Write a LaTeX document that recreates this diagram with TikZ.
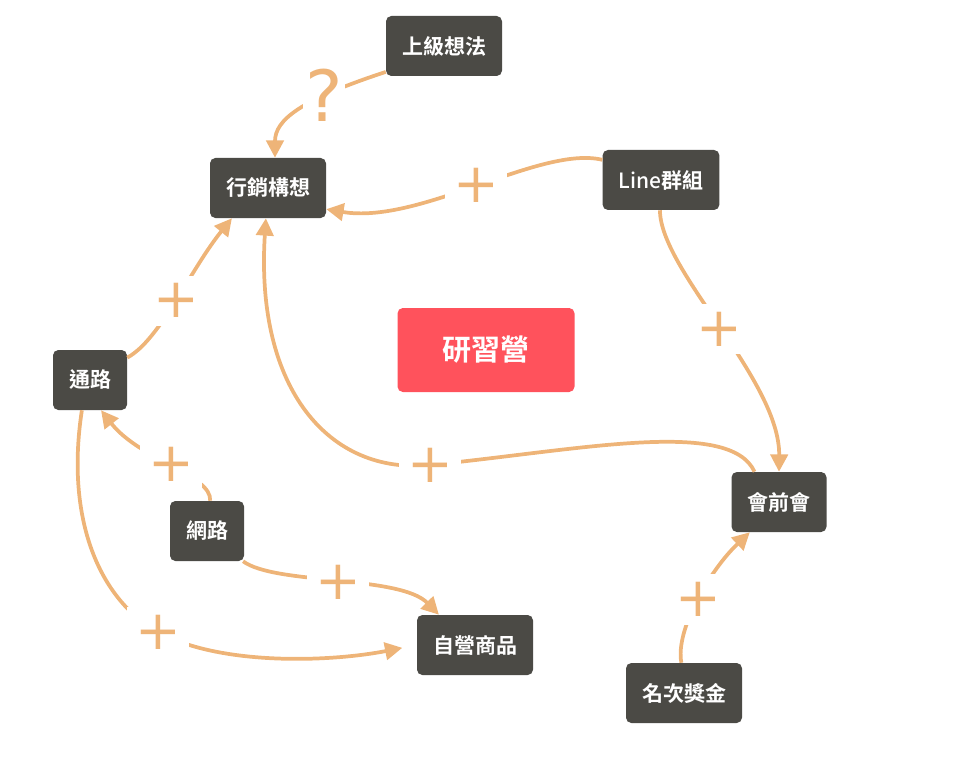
\documentclass[tikz,border=0pt]{standalone}
\usepackage{fontspec}
\setmainfont{Noto Sans CJK TC}[BoldFont={Noto Sans CJK TC Bold}]
\newfontfamily\signfont{DejaVu Sans}
\newfontfamily\latinfont{Noto Sans CJK TC Medium}
\usetikzlibrary{arrows.meta}
\definecolor{boxgray}{HTML}{4B4A45}
\definecolor{hubred}{HTML}{FF525C}
\definecolor{linkorange}{HTML}{EEB478}
\def\boxheight{45pt}
\def\boxpad{12pt}
\def\linkwidth{2.8pt}

\begin{document}
\begin{tikzpicture}[
            x=0.75pt, y=-0.75pt,
            concept/.style={%
                rectangle, rounded corners=4pt,%
                minimum height=\boxheight, inner xsep=\boxpad,%
                text centered, draw=none, fill=boxgray, text=white,%
                font=\fontsize{15.75pt}{18pt}\selectfont\bfseries%
            },
            hub/.style={%
                rectangle, rounded corners=4pt,%
                minimum height=63pt, inner xsep=33.75pt,%
                text centered, draw=none, fill=hubred, text=white,%
                font=\fontsize{21.75pt}{24pt}\selectfont\bfseries%
            },
            signlabel/.style={%
                fill=white, text=linkorange, inner sep=6pt,%
                font=\fontsize{41pt}{41pt}\signfont%
            },
            asklabel/.style={%
                fill=white, text=linkorange, inner sep=2pt,%
                font=\fontsize{53pt}{53pt}\signfont%
            },
            arrow/.style={draw=linkorange, line width=\linkwidth,%
                -{Triangle[length=13pt,width=13pt]}}
        ]
        \useasboundingbox (0,0) rectangle (962,759);

        % Define nodes
        \node (boss) [concept] at (444,46) {上級想法};
        \node (plan) [concept] at (268,188) {行銷構想};
        \node (group) [concept] at (661,180) {{\mdseries\latinfont Line}群組};
        \node (camp) [hub] at (486,350) {研習營};
        \node (channel) [concept] at (90,380) {通路};
        \node (web) [concept] at (207,531) {網路};
        \node (premeet) [concept] at (779,502) {會前會};
        \node (goods) [concept] at (475,645) {自營商品};
        \node (prize) [concept] at (684,693) {名次獎金};

        \draw [arrow] (boss.204) .. controls (300,100) and (275,120) ..
            node[asklabel, pos=0.3] {?} (plan.77);
        \draw [arrow] (group.161) .. controls (540,145) and (420,225) ..
            node[signlabel, pos=0.5] {+} (plan.-20);
        \draw [arrow] (channel.31) .. controls (160,340) and (190,270) ..
            node[signlabel, pos=0.5] {+} (plan.220);
        \draw [arrow] (premeet.129) .. controls (730,418) and (580,450) ..
            (430,465) node[signlabel] {+}
            .. controls (330,475) and (255,390) .. (plan.266);
        \draw [arrow] (group.268) .. controls (660,270) and (780,380) ..
            node[signlabel, pos=0.5] {+} (premeet.north);
        \draw [arrow] (web.84) .. controls (212,475) and (140,460) ..
            node[signlabel, pos=0.5] {+} (channel.-70);
        \draw [arrow] (web.-40) .. controls (275,585) and (400,575) ..
            node[signlabel, pos=0.5] {+} (goods.140);
        \draw [arrow, shorten >=11pt] (channel.-105) .. controls (65,520) and (100,600) ..
            (158,632) node[signlabel] {+}
            .. controls (220,666) and (330,662) .. (goods.west);
        \draw [arrow] (prize.95) .. controls (675,630) and (710,570) ..
            node[signlabel, pos=0.5] {+} (premeet.226);

        \end{tikzpicture}
\end{document}
